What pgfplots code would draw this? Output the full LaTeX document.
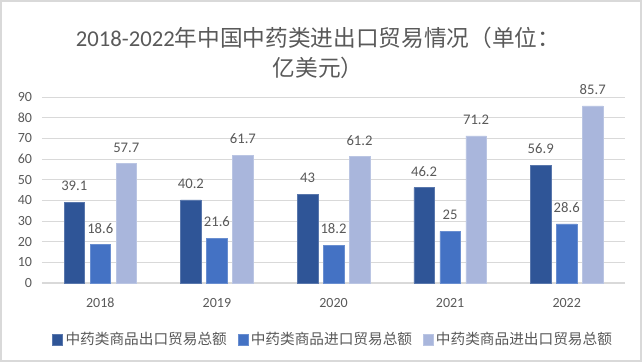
\documentclass[border=0pt]{standalone}
\usepackage{pgfplots}
\pgfplotsset{compat=1.18}
\usepackage{fontspec}
\setmainfont{Carlito}
\newfontfamily\cjk{Noto Sans CJK SC}
\definecolor{c1}{HTML}{2F5597}
\definecolor{c2}{HTML}{4472C4}
\definecolor{c3}{HTML}{A9B6DC}
\definecolor{txt}{HTML}{595959}
\definecolor{gridc}{HTML}{D9D9D9}
\begin{document}
\begin{tikzpicture}[x=0.75pt,y=0.75pt]
\useasboundingbox (0,0) rectangle (642,362);
\draw[gridc, line width=1.2pt] (1,1) rectangle (641,361);
\node[txt, font=\fontsize{17}{20}\selectfont, align=center] at (318,309) {2018-2022{\cjk 年中国中药类进出口贸易情况（单位：}\\[2pt]{\cjk 亿美元）}};
\begin{axis}[
  at={(42*0.75pt,79*0.75pt)}, anchor=south west,
  scale only axis, width=583*0.75pt, height=186*0.75pt,
  ybar, bar width=15.4pt,
  xmin=-0.5, xmax=4.5, ymin=0, ymax=90,
  xtick={0,1,2,3,4}, xticklabels={2018,2019,2020,2021,2022},
  ytick={0,10,...,90},
  axis x line*=bottom, axis y line*=left,
  x axis line style={draw=gridc, line width=0.8pt, -},
  y axis line style={draw=none},
  ymajorgrids, grid style={gridc, line width=0.6pt},
  major tick length=0pt,
  tick label style={txt, font=\fontsize{10.5}{12}\selectfont},
  yticklabel style={xshift=-4pt},
  xticklabel style={yshift=-8pt},
  /pgf/number format/assume math mode=true,
  clip=false,
  nodes near coords,
  every node near coord/.append style={txt, font=\fontsize{11}{12}\selectfont, yshift=5pt},
  point meta=explicit symbolic,
  legend style={at={(0.5,-0.235)}, anchor=north, draw=none, legend columns=3, font=\cjk\fontsize{11}{13}\selectfont, text=txt, /tikz/every even column/.append style={column sep=6pt}},
  legend image code/.code={\fill[#1] (0pt,-4pt) rectangle (7.5pt,4pt);},
]
\addplot[bar shift=-19.5pt, fill=c1, draw=c1!80!white] coordinates {(0,39.1)[39.1] (1,40.2)[40.2] (2,43)[43] (3,46.2)[46.2] (4,56.9)[56.9]};
\addplot[bar shift=0pt, fill=c2, draw=c2!80!white] coordinates {(0,18.6)[18.6] (1,21.6)[21.6] (2,18.2)[18.2] (3,25)[25] (4,28.6)[28.6]};
\addplot[bar shift=19.5pt, fill=c3, draw=c3!80!white] coordinates {(0,57.7)[57.7] (1,61.7)[61.7] (2,61.2)[61.2] (3,71.2)[71.2] (4,85.7)[85.7]};
\legend{中药类商品出口贸易总额,中药类商品进口贸易总额,中药类商品进出口贸易总额}
\end{axis}
\end{tikzpicture}
\end{document}
